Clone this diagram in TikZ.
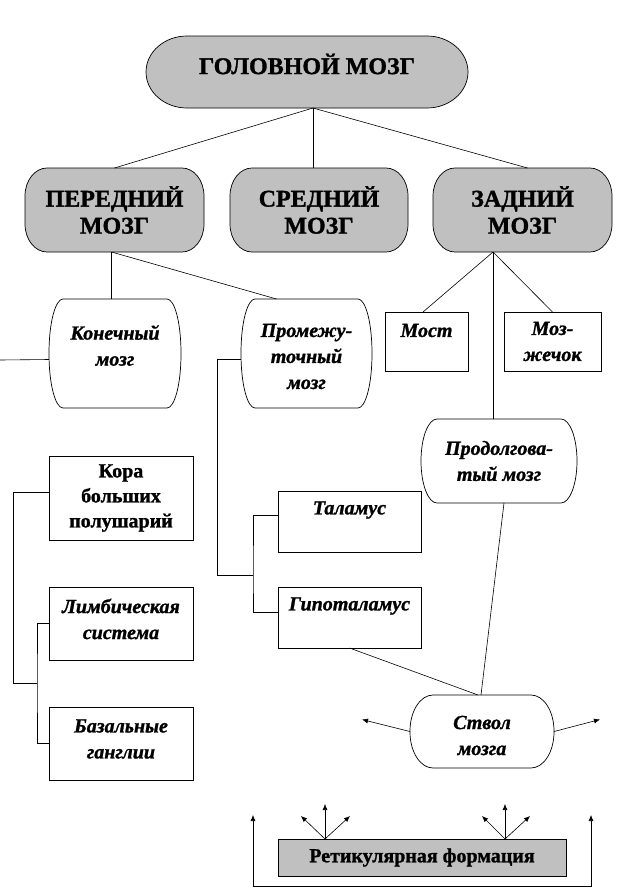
\documentclass[tikz,border=0pt]{standalone}
\usepackage{fontspec}
\setmainfont{Liberation Serif}[BoldFeatures={FakeBold=1.2},BoldItalicFeatures={FakeBold=1.2}]
\usetikzlibrary{arrows.meta}
\pgfdeclarelayer{bg}
\pgfsetlayers{bg,main}
\definecolor{boxgray}{RGB}{192,192,192}
\tikzset{
  ln/.style={line width=0.6pt, draw=black},
  arr/.style={ln, -{Latex[length=6pt,width=5pt]}},
  shp/.style={line width=0.7pt, draw=black},
  holder/.style={inner sep=0pt, outer sep=0pt},
  rbox/.style={draw=black, line width=0.7pt, fill=white, inner sep=0pt, outer sep=0pt},
  big/.style={font=\fontsize{24}{27}\selectfont\bfseries, align=center},
  itx/.style={font=\fontsize{20}{26}\selectfont\bfseries\itshape, align=center},
  upx/.style={font=\fontsize{20}{25}\selectfont\bfseries, align=center},
}
\newcommand\eshape[4]{%
\begin{pgfonlayer}{bg}
\path[shp, fill=#4] ([xshift=#2]#1.north west) -- ([xshift=-#2]#1.north east)
 arc[start angle=90, end angle=0, x radius=#2, y radius=#3]
 -- ([yshift=#3]#1.south east)
 arc[start angle=0, end angle=-90, x radius=#2, y radius=#3]
 -- ([xshift=#2]#1.south west)
 arc[start angle=270, end angle=180, x radius=#2, y radius=#3]
 -- ([yshift=-#3]#1.north west)
 arc[start angle=180, end angle=90, x radius=#2, y radius=#3] -- cycle;
\end{pgfonlayer}}
\begin{document}
\begin{tikzpicture}[x=1pt,y=-1pt]
\begin{pgfonlayer}{bg}
\fill[white] (0,0) rectangle (616,889);
\end{pgfonlayer}
\useasboundingbox (0,0) rectangle (616,889);

% level 0
\node[holder, minimum width=322pt, minimum height=72pt,
  label={[big,yshift=8pt]center:ГОЛОВНОЙ МОЗГ}] (gm) at (307,72) {};
\eshape{gm}{41pt}{36pt}{boxgray}

% level 1
\node[holder, minimum width=179pt, minimum height=84pt,
  label={[big]center:{ПЕРЕДНИЙ\\МОЗГ}}] (per) at (114.5,210) {};
\eshape{per}{22pt}{28pt}{boxgray}
\node[holder, minimum width=178pt, minimum height=84pt,
  label={[big]center:{СРЕДНИЙ\\МОЗГ}}] (sred) at (319,210) {};
\eshape{sred}{22pt}{28pt}{boxgray}
\node[holder, minimum width=179pt, minimum height=84pt,
  label={[big]center:{ЗАДНИЙ\\МОЗГ}}] (zad) at (522.5,210) {};
\eshape{zad}{22pt}{28pt}{boxgray}

% level 2
\node[holder, minimum width=132pt, minimum height=109pt,
  label={[itx,yshift=8pt]center:{Конечный\\мозг}}] (kon) at (115,353.5) {};
\eshape{kon}{14pt}{54pt}{white}
\node[holder, minimum width=131pt, minimum height=109pt,
  label={[itx,yshift=-3pt]center:{Промежу-\\точный\\мозг}}] (prom) at (306.5,353.5) {};
\eshape{prom}{14pt}{54pt}{white}
\node[rbox, minimum width=83pt, minimum height=59pt,
  label={[itx,yshift=11pt]center:Мост}] (most) at (426.5,341.5) {};
\node[rbox, minimum width=97pt, minimum height=59pt,
  label={[itx]center:{Моз-\\жечок}}] (mozh) at (552.5,341.5) {};
\node[holder, minimum width=156pt, minimum height=84pt,
  label={[itx]center:{Продолгова-\\тый мозг}}] (prod) at (499,461) {};
\eshape{prod}{16pt}{42pt}{white}

% left column
\node[rbox, minimum width=144pt, minimum height=84pt,
  label={[upx]center:{Кора\\больших\\полушарий}}] (kora) at (121,498) {};
\node[rbox, minimum width=144pt, minimum height=73pt,
  label={[itx,yshift=4.5pt]center:{Лимбическая\\система}}] (limb) at (121,623.5) {};
\node[rbox, minimum width=144pt, minimum height=73pt,
  label={[itx,yshift=4.5pt]center:{Базальные\\ганглии}}] (baz) at (121,743.5) {};

% middle column
\node[rbox, minimum width=143pt, minimum height=61pt,
  label={[itx,yshift=11.5pt]center:Таламус}] (tal) at (349.5,521.5) {};
\node[rbox, minimum width=143pt, minimum height=61pt,
  label={[itx,yshift=11.5pt]center:Гипоталамус}] (gip) at (349.5,617.5) {};

% brain stem
\node[holder, minimum width=144pt, minimum height=73pt,
  label={[itx,yshift=-4pt]center:{Ствол\\мозга}}] (stv) at (482,731.5) {};
\eshape{stv}{23pt}{36pt}{white}

% reticular formation
\node[rbox, fill=boxgray, minimum width=288pt, minimum height=37pt,
  label={[upx]center:Ретикулярная формация}] (ret) at (422,857.5) {};

% connectors: top level
\coordinate (hub) at ([xshift=6pt]gm.south);
\draw[ln] (hub) -- (per.north);
\draw[ln] (hub) -- (hub |- sred.north);
\draw[ln] (hub) -- ([xshift=5pt]zad.north);

% forebrain
\draw[ln] ([xshift=-3pt]per.south) -- ([xshift=-3pt]per.south |- kon.north);
\draw[ln] ([xshift=-3pt]per.south) -- ([xshift=-30pt]prom.north);
\coordinate (konend) at (0,360);
\draw[ln] ([yshift=-6pt]kon.west) -- (konend);

% diencephalon bracket
\coordinate (tbus) at (253,575);
\draw[ln] ([yshift=-5.5pt]prom.west) -- ++(-24,0) |- (tbus);
\draw[ln] ([yshift=6.5pt]tal.west) -| (tbus) |- ([yshift=5.5pt]gip.west);

% telencephalon bracket
\coordinate (kbus) at (37,683);
\draw[ln] ([yshift=6pt]kora.west) -- ++(-36,0) |- (kbus);
\draw[ln] (limb.west) -| (kbus) |- (baz.west);

% hindbrain
\coordinate (zh) at ([xshift=-29.5pt]zad.south);
\draw[ln] (zh) -- ([xshift=-3.5pt]most.north);
\draw[ln] (zh) -- (mozh.north);
\draw[ln] (zh) -- (zh |- prod.north);

% brain stem links
\draw[ln] ([xshift=5pt]prod.south) -- ([xshift=-1pt]stv.north);
\draw[ln] (gip.south) -- ([xshift=-4pt]stv.north);
\draw[arr] (stv.west) -- ++(-48,-12);
\draw[arr] (stv.east) -- ++(46,-12);

% reticular arrows
\coordinate (r1) at ([xshift=-97pt]ret.north);
\coordinate (r2) at ([xshift=83pt]ret.north);
\draw[arr] (r1) -- ++(0,-35);
\draw[arr] (r1) -- ++(-24,-23);
\draw[arr] (r1) -- ++(25,-23);
\draw[arr] (r2) -- ++(0,-35);
\draw[arr] (r2) -- ++(-23,-23);
\draw[arr] (r2) -- ++(25,-23);
\coordinate (ol) at (253,815);
\coordinate (or) at (591,815);
\draw[ln, {Latex[length=6pt,width=5pt]}-{Latex[length=6pt,width=5pt]}] (ol) -- (253,886) -- (591,886) -- (or);
\end{tikzpicture}
\end{document}
